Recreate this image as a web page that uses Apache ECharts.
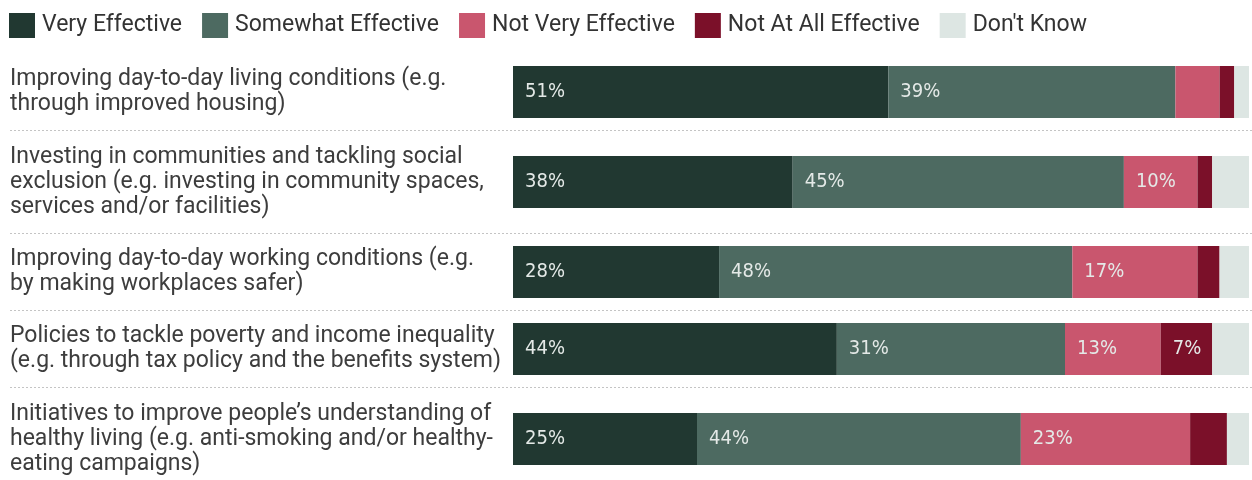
<!DOCTYPE html>
<html>
<head>
<meta charset="UTF-8">
<title>Effectiveness of policies</title>
<script src="https://cdn.jsdelivr.net/npm/echarts@6/dist/echarts.min.js"></script>
<style>
  html, body { margin: 0; padding: 0; background: #fff; }
  #chart { width: 1252px; height: 480px; }
</style>
</head>
<body>
<div id="chart"></div>
<script>
// categories (line breaks as in the original)
var categories = [
  'Improving day-to-day living conditions (e.g.\nthrough improved housing)',
  'Investing in communities and tackling social\nexclusion (e.g. investing in community spaces,\nservices and/or facilities)',
  'Improving day-to-day working conditions (e.g.\nby making workplaces safer)',
  'Policies to tackle poverty and income inequality\n(e.g. through tax policy and the benefits system)',
  'Initiatives to improve people\u2019s understanding of\nhealthy living (e.g. anti-smoking and/or healthy-\neating campaigns)'
];
var seriesNames = ['Very Effective', 'Somewhat Effective', 'Not Very Effective', 'Not At All Effective', "Don't Know"];
var veryEffective = [51, 38, 28, 44, 25];
var somewhatEffective = [39, 45, 48, 31, 44];
var notVeryEffective = [6, 10, 17, 13, 23];
var notAtAllEffective = [2, 2, 3, 7, 5];
var dontKnow = [2, 5, 4, 5, 3];

var values = [veryEffective, somewhatEffective, notVeryEffective, notAtAllEffective, dontKnow];
var colors = ['#213831', '#4d6a61', '#c9566e', '#7b1029', '#dde6e3'];

// row layout: 2-line rows are shorter than 3-line rows
var rowTop = 53.5;
var rowHeights = [77, 103, 77, 77, 103];
var barH = 52;
var barLeft = 513;

var chart = echarts.init(document.getElementById('chart'));

var grids = [], xAxes = [], yAxes = [], series = [], graphics = [];
var y = rowTop;
categories.forEach(function (cat, r) {
  var center = y + rowHeights[r] / 2;
  grids.push({ left: barLeft, right: 3, top: center - barH / 2, height: barH });
  xAxes.push({
    gridIndex: r, type: 'value', min: 0, max: 100,
    show: false
  });
  yAxes.push({
    gridIndex: r, type: 'category', data: [cat],
    axisLine: { show: false }, axisTick: { show: false },
    axisLabel: {
      align: 'left', margin: barLeft - 10,
      fontFamily: 'Roboto', fontSize: 23, lineHeight: 25, color: '#3d3d3d'
    }
  });
  values.forEach(function (vals, s) {
    series.push({
      type: 'bar', name: seriesNames[s], stack: 'row' + r,
      xAxisIndex: r, yAxisIndex: r,
      barWidth: '100%',
      itemStyle: { color: colors[s] },
      label: {
        show: vals[r] >= 7,
        position: 'insideLeft', distance: 12,
        formatter: '{c}%',
        fontFamily: '"DejaVu Sans Condensed", Roboto',
        fontSize: 20, color: '#e4e9e7'
      },
      emphasis: { disabled: true },
      data: [vals[r]]
    });
  });
  y += rowHeights[r];
  // dotted separator under every row except the last
  if (r < categories.length - 1) {
    graphics.push({
      type: 'line',
      shape: { x1: 10, y1: y, x2: 1252, y2: y },
      style: { stroke: '#c4c4c4', lineWidth: 1, lineDash: [2, 2] },
      silent: true
    });
  }
});

var option = {
  animation: false,
  backgroundColor: '#fff',
  legend: {
    data: seriesNames,
    left: 9, top: 13, padding: 0,
    icon: 'rect',
    itemWidth: 26, itemHeight: 25, itemGap: 20,
    textStyle: { fontFamily: 'Roboto', fontSize: 23, color: '#333', padding: [0, 0, 0, 2] }
  },
  grid: grids,
  xAxis: xAxes,
  yAxis: yAxes,
  graphic: graphics,
  series: series
};
chart.setOption(option);
window.addEventListener('resize', function () { chart.resize(); });
</script>
</body>
</html>
